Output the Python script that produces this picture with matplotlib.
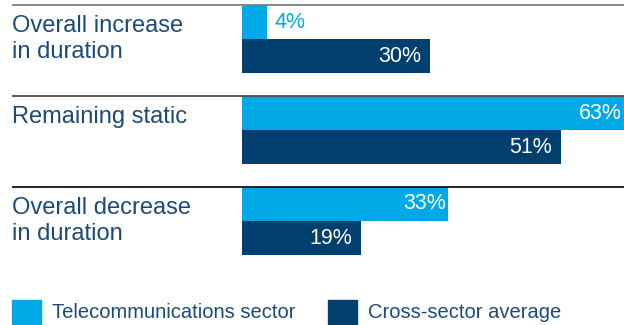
import matplotlib
matplotlib.use("Agg")
from matplotlib import pyplot as plt
from matplotlib.patches import Rectangle
from matplotlib.transforms import blended_transform_factory

plt.rcParams['font.family'] = ['Liberation Sans', 'DejaVu Sans']

categories = ["Overall increase\nin duration", "Remaining static", "Overall decrease\nin duration"]
telecom = [4, 63, 33]
cross_sector = [30, 51, 19]
series_names = ["Telecommunications sector", "Cross-sector average"]

light_blue = "#00a9e6"
dark_blue = "#003f6e"
label_blue = "#1c4a78"
rule_colors = ["#7f7f7f", "#4a4a4a", "#111111"]

W, H = 624, 325
fig = plt.figure(figsize=(W / 100, H / 100), dpi=100)

# bars occupy the right part of the figure; x axis clipped at 61%
ax = fig.add_axes([242 / W, 0, 1 - 242 / W, 1])
ax.set_xlim(0, 61.1)
ax.set_ylim(3.33, -0.242)
ax.axis("off")

bar_h = 0.375
fig_x = blended_transform_factory(fig.transFigure, ax.transData)

for i, (cat, t, c) in enumerate(zip(categories, telecom, cross_sector)):
    y_light = i
    y_dark = i + bar_h
    ax.barh(y_light, t, height=bar_h, color=light_blue, align="center")
    ax.barh(y_dark, c, height=bar_h, color=dark_blue, align="center")

    # separator rule above each group
    top = i - bar_h / 2
    ax.plot([12 / W, 1], [top, top], color=rule_colors[i], lw=1.3,
            transform=fig_x, clip_on=False, solid_capstyle="butt")

    # category label
    ax.text(12 / W, top + 0.11, cat, transform=fig_x, ha="left", va="top",
            fontsize=17, color=label_blue, linespacing=1.23)

    # value labels
    xmax = ax.get_xlim()[1]
    if t < 8:
        ax.text(t + 1.2, y_light, f"{t}%", ha="left", va="center",
                fontsize=15.5, color=light_blue)
    else:
        ax.text(min(t, xmax) - 0.3, y_light, f"{t}%", ha="right", va="center",
                fontsize=15.5, color="white")
    ax.text(c - 1.4, y_dark, f"{c}%", ha="right", va="center",
            fontsize=15.5, color="white")

# legend
for j, (name, col) in enumerate(zip(series_names, [light_blue, dark_blue])):
    x0 = [12, 328][j]
    fig.patches.append(Rectangle((x0 / W, 1 / H), 29 / W, 24 / H, color=col,
                                 transform=fig.transFigure, figure=fig))
    fig.text((x0 + 40) / W, 13 / H, name, ha="left", va="center",
             fontsize=14.5, color=label_blue)

fig.savefig("out.png", dpi=100)
